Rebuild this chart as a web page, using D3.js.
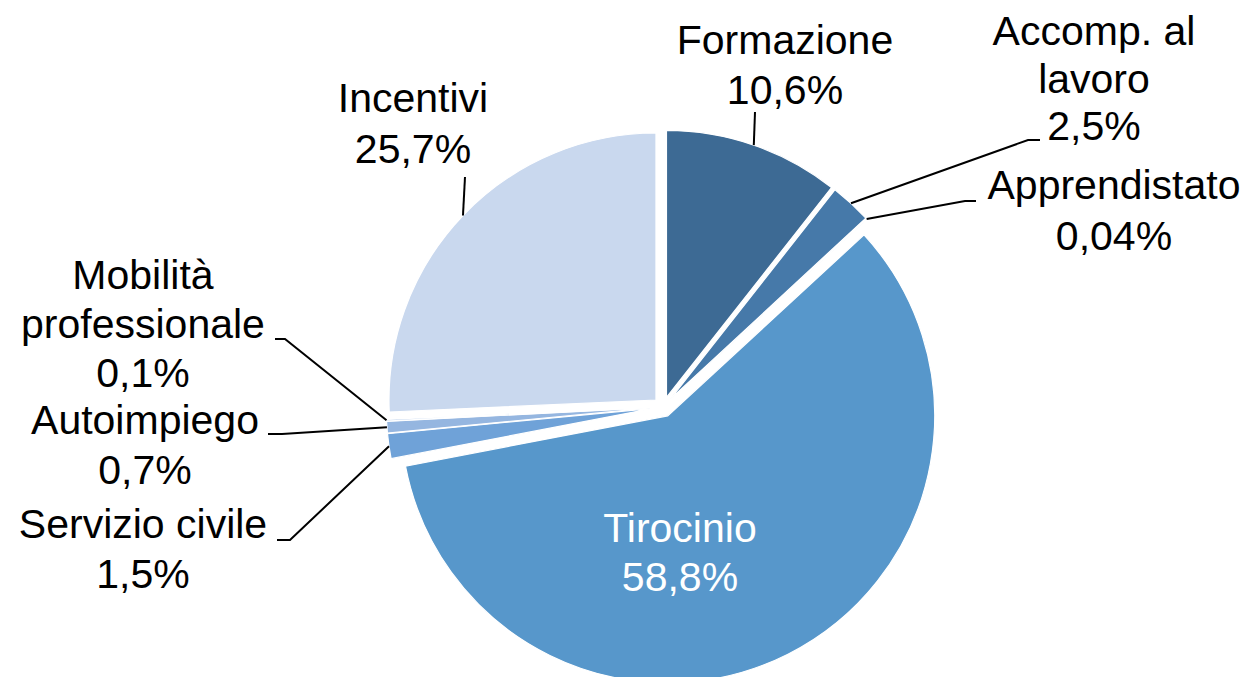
<!DOCTYPE html>
<html>
<head>
<meta charset="utf-8">
<script src="https://cdn.jsdelivr.net/npm/d3@7"></script>
<style>
	body { margin: 0; background: #fff; }
	text { font-family: "Liberation Sans", Arial, sans-serif; font-size: 41px; }
</style>
</head>
<body>
<script>
//chart data
var categories = ["Formazione", "Accomp. al lavoro", "Apprendistato", "Tirocinio",
	"Servizio civile", "Autoimpiego", "Mobilità professionale", "Incentivi"];
var labelLines = [["Formazione"], ["Accomp. al", "lavoro"], ["Apprendistato"], ["Tirocinio"],
	["Servizio civile"], ["Autoimpiego"], ["Mobilità", "professionale"], ["Incentivi"]];
var shares = [10.6, 2.5, 0.04, 58.8, 1.5, 0.7, 0.1, 25.7];
var colors = ["#3d6a94", "#4679a9", "#5088bd", "#5797cb", "#6fa2d8", "#95b6e0", "#b3cae9", "#c9d8ee"];

//layout of labels: center x, first baseline, line step, leader elbow, leader end x
var labelLayout = [
	{x: 785, y: 54, step: 50, elbow: [755, 112], end: null},
	{x: 1094, y: 45, step: 47.5, elbow: [1028, 140], end: 1040},
	{x: 1114, y: 199, step: 51, elbow: [965, 201], end: 976},
	{x: 680, y: 542, step: 49, elbow: null, end: null, fill: "#fff"},
	{x: 143, y: 538, step: 50, elbow: [290, 540], end: 277},
	{x: 145, y: 434, step: 50, elbow: [282, 434], end: 268},
	{x: 143, y: 289, step: 49, elbow: [285, 339], end: 275},
	{x: 413, y: 112, step: 51, elbow: [465, 177], end: null}
];

window.onload = setChart();

function setChart(){

	var width = 1251,
		height = 677,
		cx = 663.2,
		cy = 406.9,
		radius = 267,
		explode = 10;

	var svg = d3.select("body")
		.append("svg")
		.attr("width", width)
		.attr("height", height);

	var pie = d3.pie().sort(null).value(function(d){ return d; });
	var arcs = pie(shares);

	var arc = d3.arc().innerRadius(0).outerRadius(radius);

	//offset of each slice along its bisector
	function offset(a){
		var mid = (a.startAngle + a.endAngle) / 2;
		return [cx + explode * Math.sin(mid), cy - explode * Math.cos(mid)];
	}

	svg.selectAll(".slice")
		.data(arcs)
		.enter()
		.append("path")
		.attr("class", "slice")
		.attr("transform", function(d){ var o = offset(d); return "translate(" + o[0] + "," + o[1] + ")"; })
		.attr("d", arc)
		.attr("fill", function(d, i){ return colors[i]; })
		.attr("stroke", "#fff")
		.attr("stroke-width", 1.2);

	//leader lines
	arcs.forEach(function(d, i){
		var lay = labelLayout[i];
		if (!lay.elbow) return;
		var o = offset(d),
			mid = (d.startAngle + d.endAngle) / 2,
			pts = [[o[0] + radius * Math.sin(mid), o[1] - radius * Math.cos(mid)], lay.elbow];
		if (lay.end !== null) pts.push([lay.end, lay.elbow[1]]);
		svg.append("path")
			.attr("d", d3.line()(pts))
			.attr("fill", "none")
			.attr("stroke", "#000")
			.attr("stroke-width", 2);
	});

	//labels
	labelLines.forEach(function(lines, i){
		var lay = labelLayout[i];
		var all = lines.concat([String(shares[i]).replace(".", ",") + "%"]);
		var t = svg.append("text")
			.attr("text-anchor", "middle")
			.attr("fill", lay.fill || "#000");
		all.forEach(function(s, j){
			t.append("tspan")
				.attr("x", lay.x)
				.attr("y", lay.y + j * lay.step)
				.text(s);
		});
	});
};
</script>
</body>
</html>
